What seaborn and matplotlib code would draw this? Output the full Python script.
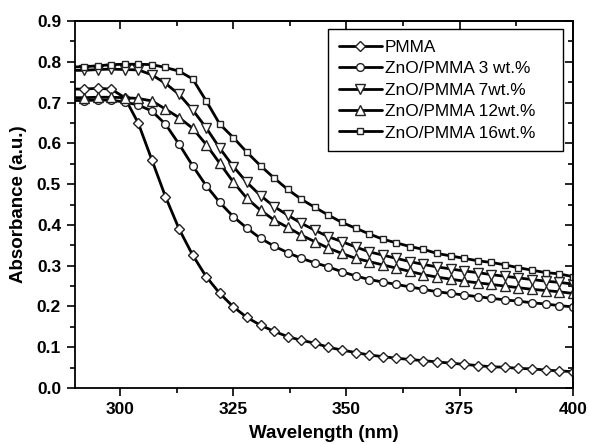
import numpy as np
import pandas as pd
import seaborn as sns
import matplotlib.pyplot as plt
from matplotlib.ticker import MultipleLocator, NullFormatter

# wavelength grid (nm) and absorbance
wavelength = np.arange(289, 401, 3)
pmma = [0.733, 0.733, 0.735, 0.733, 0.712, 0.649, 0.559, 0.469, 0.390, 0.326, 0.273,
        0.232, 0.199, 0.173, 0.154, 0.139, 0.126, 0.117, 0.110, 0.100, 0.093,
        0.087, 0.081, 0.077, 0.073, 0.070, 0.067, 0.064, 0.061, 0.058, 0.055,
        0.052, 0.051, 0.048, 0.047, 0.044, 0.042, 0.040]
zno_3 = [0.705, 0.705, 0.706, 0.706, 0.701, 0.694, 0.679, 0.647, 0.598, 0.545, 0.496,
         0.455, 0.420, 0.392, 0.367, 0.348, 0.332, 0.318, 0.307, 0.297, 0.285,
         0.275, 0.266, 0.260, 0.254, 0.248, 0.242, 0.236, 0.232, 0.228, 0.224,
         0.220, 0.216, 0.213, 0.209, 0.206, 0.202, 0.199]
zno_7 = [0.779, 0.779, 0.781, 0.782, 0.781, 0.780, 0.768, 0.747, 0.720, 0.682, 0.638,
         0.588, 0.543, 0.504, 0.472, 0.445, 0.424, 0.404, 0.387, 0.371, 0.359,
         0.346, 0.334, 0.326, 0.318, 0.310, 0.303, 0.297, 0.292, 0.287, 0.283,
         0.278, 0.274, 0.270, 0.266, 0.262, 0.259, 0.255]
zno_12 = [0.712, 0.712, 0.713, 0.713, 0.712, 0.710, 0.704, 0.684, 0.663, 0.637, 0.597,
          0.551, 0.505, 0.465, 0.436, 0.412, 0.394, 0.375, 0.359, 0.343, 0.330,
          0.318, 0.310, 0.302, 0.294, 0.286, 0.278, 0.272, 0.267, 0.262, 0.258,
          0.254, 0.250, 0.246, 0.242, 0.239, 0.236, 0.232]
zno_16 = [0.787, 0.788, 0.790, 0.793, 0.794, 0.794, 0.793, 0.786, 0.777, 0.758, 0.704,
          0.647, 0.614, 0.578, 0.545, 0.515, 0.487, 0.463, 0.443, 0.424, 0.406,
          0.392, 0.378, 0.365, 0.356, 0.347, 0.340, 0.330, 0.324, 0.318, 0.312,
          0.308, 0.302, 0.295, 0.289, 0.283, 0.280, 0.273]

labels = ["PMMA", "ZnO/PMMA 3 wt.%", "ZnO/PMMA 7wt.%", "ZnO/PMMA 12wt.%", "ZnO/PMMA 16wt.%"]
marker_list = ["D", "o", "v", "^", "s"]
marker_sizes = [5.3, 5.6, 7, 7, 5.0]

sns.set_theme(style="ticks")
plt.rcParams["font.family"] = ["Liberation Sans", "DejaVu Sans"]
plt.rcParams.update({"text.color": "black", "axes.labelcolor": "black",
                     "xtick.color": "black", "ytick.color": "black"})

df = pd.DataFrame({"wavelength": wavelength})
for lab, vals in zip(labels, [pmma, zno_3, zno_7, zno_12, zno_16]):
    df[lab] = vals
long = df.melt(id_vars="wavelength", var_name="sample", value_name="absorbance")

fig = plt.figure(figsize=(5.89, 4.44), dpi=100)
ax = fig.add_axes([75 / 589, 1 - 388 / 444, (572.7 - 75) / 589, (388 - 21) / 444])

sns.lineplot(data=long, x="wavelength", y="absorbance", hue="sample", style="sample",
             hue_order=labels, style_order=labels, palette=["black"] * 5,
             markers=dict(zip(labels, marker_list)), dashes=False, estimator=None,
             linewidth=2.0, markerfacecolor="white", markeredgecolor="#222222",
             markeredgewidth=1.0, legend=False, ax=ax)

lines = ax.get_lines()[:5]
for ln, ms in zip(lines, marker_sizes):
    ln.set_markersize(ms)

ax.set_xlim(290, 400)
ax.set_ylim(0.0, 0.9)
ax.xaxis.set_major_locator(MultipleLocator(25))
ax.xaxis.set_minor_locator(MultipleLocator(12.5))
ax.yaxis.set_major_locator(MultipleLocator(0.1))
ax.yaxis.set_minor_locator(MultipleLocator(0.05))
ax.yaxis.set_major_formatter(plt.FormatStrFormatter("%.1f"))
ax.tick_params(which="major", direction="out", length=6, width=1.2, labelsize=12.5, pad=4)
ax.tick_params(which="minor", direction="out", length=3.5, width=1.2)
for lab in ax.get_xticklabels() + ax.get_yticklabels():
    lab.set_fontweight("bold")

for side in ["top", "bottom", "left", "right"]:
    ax.spines[side].set_visible(True)
    ax.spines[side].set_color("black")
    ax.spines[side].set_linewidth(1.3)

# inward ticks on the top and right sides, Origin style
top = ax.secondary_xaxis("top")
top.xaxis.set_major_locator(MultipleLocator(25))
top.xaxis.set_minor_locator(MultipleLocator(12.5))
top.xaxis.set_major_formatter(NullFormatter())
top.tick_params(which="major", direction="in", length=6, width=1.2)
top.tick_params(which="minor", direction="in", length=3.5, width=1.2)
top.spines["top"].set_linewidth(1.3)
right = ax.secondary_yaxis("right")
right.yaxis.set_major_locator(MultipleLocator(0.1))
right.yaxis.set_minor_locator(MultipleLocator(0.05))
right.yaxis.set_major_formatter(NullFormatter())
right.tick_params(which="major", direction="in", length=6, width=1.2)
right.tick_params(which="minor", direction="in", length=3.5, width=1.2)
right.spines["right"].set_linewidth(1.3)

ax.set_xlabel("Wavelength (nm)", fontsize=13.5, fontweight="bold", labelpad=6)
ax.set_ylabel("Absorbance (a.u.)", fontsize=13.5, fontweight="bold", labelpad=7)

leg = ax.legend(handles=lines, labels=labels, loc="upper left",
                bbox_to_anchor=(0.508, 0.0, 0.472, 0.978), mode="expand",
                fontsize=12.4, frameon=True, fancybox=False, edgecolor="black",
                framealpha=1, handlelength=2.5, handletextpad=0.2, labelspacing=0.37,
                borderpad=0.62, borderaxespad=0.0)
leg.get_frame().set_linewidth(1.0)

fig.savefig("out.png", dpi=100)
